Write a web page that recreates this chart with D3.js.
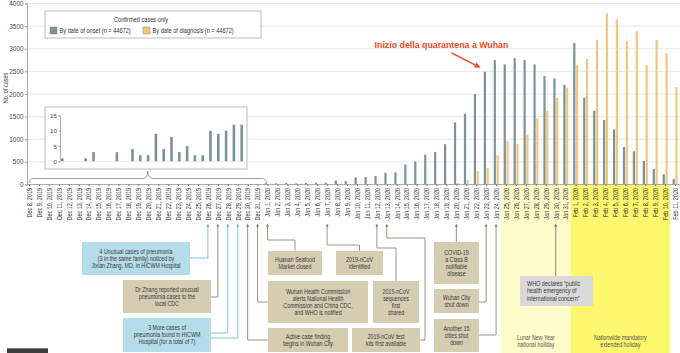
<!DOCTYPE html>
<html>
<head>
<meta charset="utf-8">
<script src="https://cdn.jsdelivr.net/npm/d3@7"></script>
<style>
  body { margin: 0; background: #fff; }
  svg { display: block; font-family: "Liberation Sans", Arial, sans-serif; }
</style>
</head>
<body>
<div id="chart"></div>
<script>
/* Epidemic curve, confirmed cases by onset and by diagnosis */

const fmt = d3.timeFormat("%b %-d, %Y");
const dates = d3.timeDay.range(new Date(2019, 11, 8), new Date(2020, 1, 12)).map(fmt);

// by date of onset, Dec 8 2019 .. Feb 11 2020
const onset = [
  1, 0, 0, 1, 3, 0, 0, 3, 0, 4, 2, 2, 9, 4, 8, 3, 5, 2, 2, 10, 9, 10, 12, 12,
  30, 25, 35, 25, 35, 40, 40, 90, 75, 160, 165, 190, 255, 270, 445, 510, 660, 720, 890,
  1375, 1565, 2000, 2490, 2750, 2655, 2790, 2750, 2655, 2400, 2345, 2205,
  3125, 1920, 1630, 1425, 1220, 830, 735, 520, 345, 225, 120
];

// by date of diagnosis
const diagnosis = [
  0, 0, 0, 0, 0, 0, 0, 0, 0, 0, 0, 0, 0, 0, 0, 0, 0, 0, 0, 0, 0, 0, 0, 0,
  0, 0, 0, 0, 0, 0, 0, 0, 0, 0, 0, 0, 0, 0, 0, 2, 4, 10, 15,
  30, 100, 295, 365, 650, 955, 895, 1095, 1470, 1630, 1910, 2135,
  2635, 2775, 3195, 3785, 3655, 3165, 3385, 2635, 3195, 2905, 2150
];

const yTicks = d3.range(0, 4001, 500);
const insetTicks = [0, 5, 10, 15];
const decDates = dates.slice(0, 24);
const decOnset = onset.slice(0, 24);

const legendItems = [
  {label: "By date of onset (n = 44672)", color: "#7b9597"},
  {label: "By date of diagnosis (n = 44672)", color: "#f3c583"}
];

const holidays = [
  {from: "Jan 25, 2020", to: "Jan 31, 2020", lines: ["Lunar New Year", "national holiday"], color: "#fefcc8"},
  {from: "Feb 1, 2020", to: "Feb 10, 2020", lines: ["Nationwide mandatory", "extended holiday"], color: "#fcf76c"}
];

const events = [
  {dates: ["Dec 26, 2019"], kind: "blue", text: ["4 Unusual cases of pneumonia", "(3 in the same family) noticed by", "Jixian Zhang, MD, in HICWM Hospital"]},
  {dates: ["Dec 27, 2019"], kind: "tan", text: ["Dr Zhang reported unusual", "pneumonia cases to the", "local CDC"]},
  {dates: ["Dec 28, 2019", "Dec 29, 2019"], kind: "blue", text: ["3 More cases of", "pneumonia found in HICWM", "Hospital (for a total of 7)"]},
  {dates: ["Dec 30, 2019"], kind: "tan", text: ["Active case finding", "begins in Wuhan City"]},
  {dates: ["Dec 31, 2019"], kind: "tan", text: ["Wuhan Health Commission", "alerts National Health", "Commission and China CDC,", "and WHO is notified"]},
  {dates: ["Jan 1, 2020"], kind: "tan", text: ["Huanan Seafood", "Market closed"]},
  {dates: ["Jan 7, 2020"], kind: "tan", text: ["2019-nCoV", "identified"]},
  {dates: ["Jan 12, 2020"], kind: "tan", text: ["2019-nCoV", "sequences", "first", "shared"]},
  {dates: ["Jan 13, 2020"], kind: "tan", text: ["2019-nCoV test", "kits first available"]},
  {dates: ["Jan 20, 2020"], kind: "tan", text: ["COVID-19", "a Class B", "notifiable", "disease"]},
  {dates: ["Jan 23, 2020"], kind: "tan", text: ["Wuhan City", "shut down"]},
  {dates: ["Jan 24, 2020"], kind: "tan", text: ["Another 15", "cities shut", "down"]},
  {dates: ["Jan 30, 2020"], kind: "who", text: ["WHO declares \u201cpublic", "health emergency of", "international concern\u201d"]}
];

/* where the event boxes sit and how their leader lines run */
const eventLayout = [
  {box: [82, 242, 190, 275], routes: [[["v", 258], ["h", 190]]]},
  {box: [123, 280, 211, 313], routes: [[["v", 297], ["h", 211]]]},
  {box: [123, 318, 211, 352], routes: [[["v", 333], ["h", 211]], [["v", 338], ["h", 211]]]},
  {box: [268, 328, 348, 352], routes: [[["v", 340], ["h", 268]]]},
  {box: [268, 281, 368, 323], routes: [[["v", 302], ["h", 268]]]},
  {box: [268, 251, 322, 275], routes: [[["v", 240], ["h", 295], ["v", 251]]]},
  {box: [336, 251, 383, 275], routes: [[["v", 245], ["h", 359.5], ["v", 251]]]},
  {box: [373, 281, 419, 323], routes: [[["v", 248], ["h", 396], ["v", 281]]]},
  {box: [352, 328, 420, 352], routes: [[["v", 238], ["h", 425], ["v", 340], ["h", 420]]]},
  {box: [434, 242, 479, 284], routes: [[["v", 242]]]},
  {box: [434, 289, 479, 313], routes: [[["v", 302], ["h", 479]]]},
  {box: [434, 319, 479, 352], routes: [[["v", 335], ["h", 479]]]},
  {box: [520, 276, 593, 306], routes: [[["v", 276]]]}
];

const boxColors = {blue: "#b4dde9", tan: "#d5cdb1", who: "#d9d9d9"};
const lineColors = {blue: "#5ab7d4", tan: "#857c68", who: "#6f6f6f"};
const squeeze = 0.83; // the original type is a condensed face

const width = 680, height = 353;

let svg = d3.select("#chart")
  .append("svg")
  .attr("width", width)
  .attr("height", height);

let x = d3.scalePoint().domain(dates).range([29, 675]);
let y = d3.scaleLinear().domain([0, 4000]).range([184.5, 3.5]);
const step = x.step();
const base = y(0);

/* holiday bands */
let band = svg.selectAll(".band").data(holidays).join("g").attr("class", "band");
band.append("rect")
  .attr("x", d => x(d.from) - step / 2)
  .attr("width", d => x(d.to) - x(d.from) + step)
  .attr("y", base)
  .attr("height", height - base)
  .attr("fill", d => d.color);
band.append("text")
  .attr("transform", d => `translate(${(x(d.from) + x(d.to)) / 2},0) scale(${squeeze},1)`)
  .attr("text-anchor", "middle")
  .attr("font-size", 6.4)
  .attr("fill", "#555")
  .selectAll("tspan").data(d => d.lines).join("tspan")
  .attr("x", 0)
  .attr("y", (t, i) => 340 + i * 7.5)
  .text(t => t);

/* grid */
svg.append("g")
  .selectAll("line").data(yTicks.slice(1)).join("line")
  .attr("x1", 27).attr("x2", width)
  .attr("y1", d => y(d)).attr("y2", d => y(d))
  .attr("stroke", "#e4e4e4").attr("stroke-width", 0.8);

/* y axis */
const yAxis = g => g
  .attr("transform", "translate(27,0)")
  .call(d3.axisLeft(y).tickValues(yTicks).tickFormat(d3.format("d")).tickSize(2).tickPadding(1.5))
  .call(g => g.select(".domain").attr("stroke", "#999").attr("stroke-width", 0.8))
  .call(g => g.selectAll(".tick line").attr("stroke", "#999"))
  .call(g => g.selectAll("text").attr("font-size", 6.4).attr("fill", "#444").attr("font-family", null));
svg.append("g").call(yAxis);

svg.append("text")
  .attr("transform", `translate(7.5,88) rotate(-90) scale(${squeeze},1)`)
  .attr("text-anchor", "middle")
  .attr("font-size", 6.6)
  .attr("fill", "#444")
  .text("No. of cases");

/* bars */
let bar = svg.selectAll(".bar")
  .data(dates.map((d, i) => ({d, on: onset[i], dx: diagnosis[i]})))
  .join("g")
  .attr("class", "bar");

bar.append("rect")
  .attr("fill", legendItems[0].color)
  .attr("x", d => x(d.d) - 2.4)
  .attr("width", 2.2)
  .attr("y", d => y(d.on))
  .attr("height", d => base - y(d.on));

bar.append("rect")
  .attr("fill", legendItems[1].color)
  .attr("x", d => x(d.d) + 0.4)
  .attr("width", 2.2)
  .attr("y", d => y(d.dx))
  .attr("height", d => base - y(d.dx));

/* x axis */
svg.append("line")
  .attr("x1", 27).attr("x2", width)
  .attr("y1", base).attr("y2", base)
  .attr("stroke", "#999").attr("stroke-width", 0.8);

const xAxis = g => g
  .attr("transform", `translate(0,${base})`)
  .call(d3.axisBottom(x).tickSize(1.5))
  .call(g => g.select(".domain").remove())
  .call(g => g.selectAll(".tick line").attr("stroke", "#666"))
  .call(g => g.selectAll("text")
    .attr("font-size", 6.6)
    .attr("font-family", null)
    .attr("fill", "#333")
    .attr("transform", `rotate(-90) scale(${squeeze},1)`)
    .attr("x", -3.5 / squeeze)
    .attr("y", 0)
    .attr("dy", "0.35em")
    .attr("text-anchor", "end"));
svg.append("g").call(xAxis);

/* legend */
let legend = svg.append("g");
legend.append("rect")
  .attr("x", 45).attr("y", 11).attr("width", 216).attr("height", 27)
  .attr("fill", "#fff").attr("stroke", "#aaa").attr("stroke-width", 0.8);
legend.append("text")
  .attr("transform", `translate(141,21.5) scale(${squeeze},1)`)
  .attr("text-anchor", "middle").attr("font-size", 6.8).attr("fill", "#333")
  .text("Confirmed cases only");
let item = legend.selectAll(".item").data(legendItems).join("g").attr("class", "item")
  .attr("transform", (d, i) => `translate(${i ? 143 : 50},27)`);
item.append("rect").attr("width", 7).attr("height", 7)
  .attr("fill", d => d.color).attr("stroke", "#777").attr("stroke-width", 0.4);
item.append("text")
  .attr("transform", `translate(9.5,6) scale(${squeeze},1)`)
  .attr("font-size", 6.8).attr("fill", "#333").text(d => d.label);

/* inset for December */
let inset = svg.append("g");
inset.append("rect")
  .attr("x", 45).attr("y", 107).attr("width", 202).attr("height", 62)
  .attr("fill", "#fff").attr("stroke", "#aaa").attr("stroke-width", 0.8);

let ix = d3.scalePoint().domain(decDates).range([62.3, 241.7]);
let iy = d3.scaleLinear().domain([0, 15]).range([161.3, 115.5]);

inset.append("g")
  .attr("transform", "translate(60,0)")
  .call(d3.axisLeft(iy).tickValues(insetTicks).tickSize(1.5).tickPadding(1.5))
  .call(g => g.select(".domain").attr("stroke", "#999").attr("stroke-width", 0.8))
  .call(g => g.selectAll(".tick line").attr("stroke", "#999"))
  .call(g => g.selectAll("text").attr("font-size", 6.2).attr("fill", "#444").attr("font-family", null));

inset.append("line")
  .attr("x1", 60).attr("x2", 245).attr("y1", iy(0)).attr("y2", iy(0))
  .attr("stroke", "#ddd").attr("stroke-width", 0.6);

inset.selectAll(".ibar").data(decDates.map((d, i) => ({d, v: decOnset[i]})))
  .join("rect")
  .attr("class", "ibar")
  .attr("fill", legendItems[0].color)
  .attr("x", d => ix(d.d) - 1.3)
  .attr("width", 2.6)
  .attr("y", d => iy(d.v))
  .attr("height", d => iy(0) - iy(d.v));

/* brace under the inset */
const bx0 = x(dates[0]), bx1 = x("Jan 1, 2020") - 1, bm = (bx0 + bx1) / 2;
svg.append("path")
  .attr("d", `M${bx0},183 Q${bx0},178.5 ${bx0 + 5},178.5 L${bm - 5},178.5 Q${bm},178.5 ${bm},171
              Q${bm},178.5 ${bm + 5},178.5 L${bx1 - 5},178.5 Q${bx1},178.5 ${bx1},183`)
  .attr("fill", "none").attr("stroke", "#888").attr("stroke-width", 0.8);

/* event boxes */
const tipY = 223.5;
let ev = svg.selectAll(".event")
  .data(events.map((e, i) => ({...e, ...eventLayout[i]})))
  .join("g").attr("class", "event");

ev.each(function (e) {
  const g = d3.select(this);
  e.dates.forEach((dt, k) => {
    const tx = x(dt);
    let p = d3.path(), cx = tx, cy = tipY + 2;
    p.moveTo(cx, cy);
    e.routes[k].forEach(([c, v]) => {
      if (c === "v") cy = v; else cx = v;
      p.lineTo(cx, cy);
    });
    g.append("path").attr("d", p.toString())
      .attr("fill", "none").attr("stroke", lineColors[e.kind]).attr("stroke-width", 0.8);
    g.append("path")
      .attr("d", `M${tx - 1.4},${tipY + 3.2} L${tx},${tipY} L${tx + 1.4},${tipY + 3.2} Z`)
      .attr("fill", lineColors[e.kind]);
  });

  const [x0, y0, x1, y1] = e.box;
  g.append("rect")
    .attr("x", x0).attr("y", y0).attr("width", x1 - x0).attr("height", y1 - y0)
    .attr("fill", boxColors[e.kind]);

  const left = e.kind === "who";
  const fs = left ? 6.6 : 6.4, lh = left ? 7.4 : 6.9;
  const first = (y0 + y1) / 2 - (e.text.length - 1) * lh / 2 + fs * 0.35;
  g.append("text")
    .attr("transform", `translate(${left ? x0 + 7 : (x0 + x1) / 2},0) scale(${squeeze},1)`)
    .attr("font-size", fs)
    .attr("fill", "#3a3a3a")
    .attr("text-anchor", left ? "start" : "middle")
    .selectAll("tspan").data(e.text).join("tspan")
    .attr("x", 0)
    .attr("y", (t, i) => first + i * lh)
    .text(t => t);
});

/* quarantine note */
const qx = x("Jan 23, 2020"), qy = y(onset[dates.indexOf("Jan 23, 2020")]);
const tip = [qx - 5.5, qy - 4];
const from = [tip[0] - 29, tip[1] - 15];
const ang = Math.atan2(tip[1] - from[1], tip[0] - from[0]);
const hx = tip[0] - 6 * Math.cos(ang), hy = tip[1] - 6 * Math.sin(ang);
const px = 2.8 * Math.sin(ang), py = -2.8 * Math.cos(ang);

svg.append("line")
  .attr("x1", from[0]).attr("y1", from[1]).attr("x2", hx).attr("y2", hy)
  .attr("stroke", "#ef4a24").attr("stroke-width", 1.5);
svg.append("path")
  .attr("d", `M${tip[0]},${tip[1]} L${hx + px},${hy + py} L${hx - px},${hy - py} Z`)
  .attr("fill", "#ef4a24");

svg.append("text")
  .attr("x", 441.5).attr("y", 47.5)
  .attr("text-anchor", "middle")
  .attr("font-weight", "bold")
  .attr("font-size", 8.8)
  .attr("fill", "#ef4a24")
  .text("Inizio della quarantena a Wuhan");

/* corner tag */
svg.append("rect")
  .attr("x", 7).attr("y", 348.3).attr("width", 41).attr("height", 5)
  .attr("fill", "#3c3c3c");
</script>
</body>
</html>
